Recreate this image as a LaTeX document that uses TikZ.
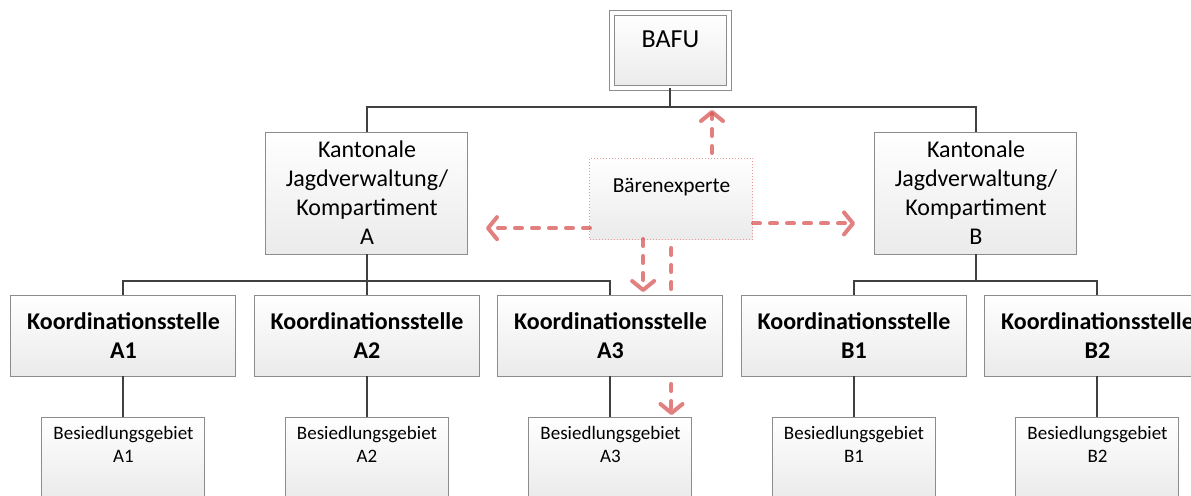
\documentclass[tikz,border=0pt]{standalone}
\usepackage{fontspec}
\setmainfont{Carlito}
\usetikzlibrary{positioning, calc, arrows.meta, backgrounds}
\definecolor{hintred}{RGB}{214,72,72}
\tikzset{
box/.style = {rectangle, draw = black!45, line width = .5pt, top color = white,
   bottom color = black!8, inner sep = 3pt, outer sep = 0pt, align = center},
office/.style = {box, minimum width = 58.5pt, minimum height = 37.5pt,
   double = white, double distance = 1.8pt, text height = 14pt, text depth = 17.5pt,
   font = \fontsize{13}{15}\selectfont},
canton/.style = {box, minimum width = 101pt, minimum height = 61pt,
   font = \fontsize{12}{14.5}\selectfont},
post/.style = {box, minimum width = 112.5pt, minimum height = 40.5pt,
   font = \bfseries\fontsize{12}{14.5}\selectfont},
area/.style = {box, minimum width = 81.5pt, minimum height = 40.5pt,
   text height = 19.65pt, text depth = 14.85pt, font = \fontsize{9.5}{11.5}\selectfont},
expertbox/.style = {box, draw = hintred!55, densely dotted, minimum width = 81.5pt,
   minimum height = 40.5pt, text height = 14.15pt, text depth = 20.35pt,
   font = \fontsize{10.7}{13}\selectfont},
tree/.style = {draw = black!75, line width = 1pt},
hint/.style = {draw = hintred, opacity = .7, line width = 2pt, line cap = round,
   dash pattern = on 3.5pt off 5pt,
   -{Straight Barb[length = 4.5pt, width = 11pt, round]}}
}

\begin{document}
\begin{tikzpicture}
\useasboundingbox (-335.25pt, 25.25pt) rectangle (260.25pt, -222.25pt);

%%%% Offices
%% Federal office
\node [office] (bafu) at (0,0) {BAFU};

%% Cantons
\node [canton] (kantA) [below = 22pt of bafu, xshift = -151.75pt]
   {Kantonale\\Jagdverwaltung/\\Kompartiment\\A};
\node [canton] (kantB) [below = 22pt of bafu, xshift = 152.75pt]
   {Kantonale\\Jagdverwaltung/\\Kompartiment\\B};

%% Bear expert
\node [expertbox] (baer) [below = 35pt of bafu, xshift = .5pt] {Bärenexperte};

%% Coordination posts
\node [post] (kA1) [below = 20.5pt of kantA, xshift = -121.75pt] {Koordinationsstelle\\A1};
\node [post] (kA2) [right = 9.25pt of kA1] {Koordinationsstelle\\A2};
\node [post] (kA3) [right = 9.25pt of kA2] {Koordinationsstelle\\A3};
\node [post] (kB1) [right = 9.25pt of kA3] {Koordinationsstelle\\B1};
\node [post] (kB2) [right = 9.25pt of kB1] {Koordinationsstelle\\B2};

%% Settlement areas
\node [area] (gA1) [below = 20.5pt of kA1] {Besiedlungsgebiet\\A1};
\node [area] (gA2) [below = 20.5pt of kA2] {Besiedlungsgebiet\\A2};
\node [area] (gA3) [below = 20.5pt of kA3] {Besiedlungsgebiet\\A3};
\node [area] (gB1) [below = 20.5pt of kB1] {Besiedlungsgebiet\\B1};
\node [area] (gB2) [below = 20.5pt of kB2] {Besiedlungsgebiet\\B2};

%%%% Tree
\draw [tree] (bafu.south) -- ++(0,-9.5pt) coordinate (top) -| (kantA.north);
\draw [tree] (top) -| (kantB.north);

\draw [tree] (kantA.south) -- ++(0,-13.5pt) coordinate (midA) -| (kA1.north);
\draw [tree] (midA) -- (kA2.north);
\draw [tree] (midA) -| (kA3.north);

\draw [tree] (kantB.south) -- ++(0,-13.5pt) coordinate (midB) -| (kB1.north);
\draw [tree] (midB) -| (kB2.north);

\foreach \i in {A1, A2, A3, B1, B2}
   \draw [tree] (k\i.south) -- (g\i.north);

%%%% Expert links
\draw [hint, shorten < = 2.5pt, shorten > = 1.5pt] (baer.45) -- (baer.45 |- top);
\draw [hint, shorten > = 10pt] (baer.343) -- (baer.343 -| kantB.west);
\draw [hint, shorten > = 9pt] (baer.200) -- (baer.200 -| kantA.east);
\draw [hint, shorten > = 1.5pt] (baer.235) -- (baer.235 |- kA3.north);

\begin{scope}[on background layer]
\draw [hint, shorten < = 4.5pt, shorten > = 1pt] (baer.south) -- (baer.south |- gA3.north);
\end{scope}

\end{tikzpicture}
\end{document}
